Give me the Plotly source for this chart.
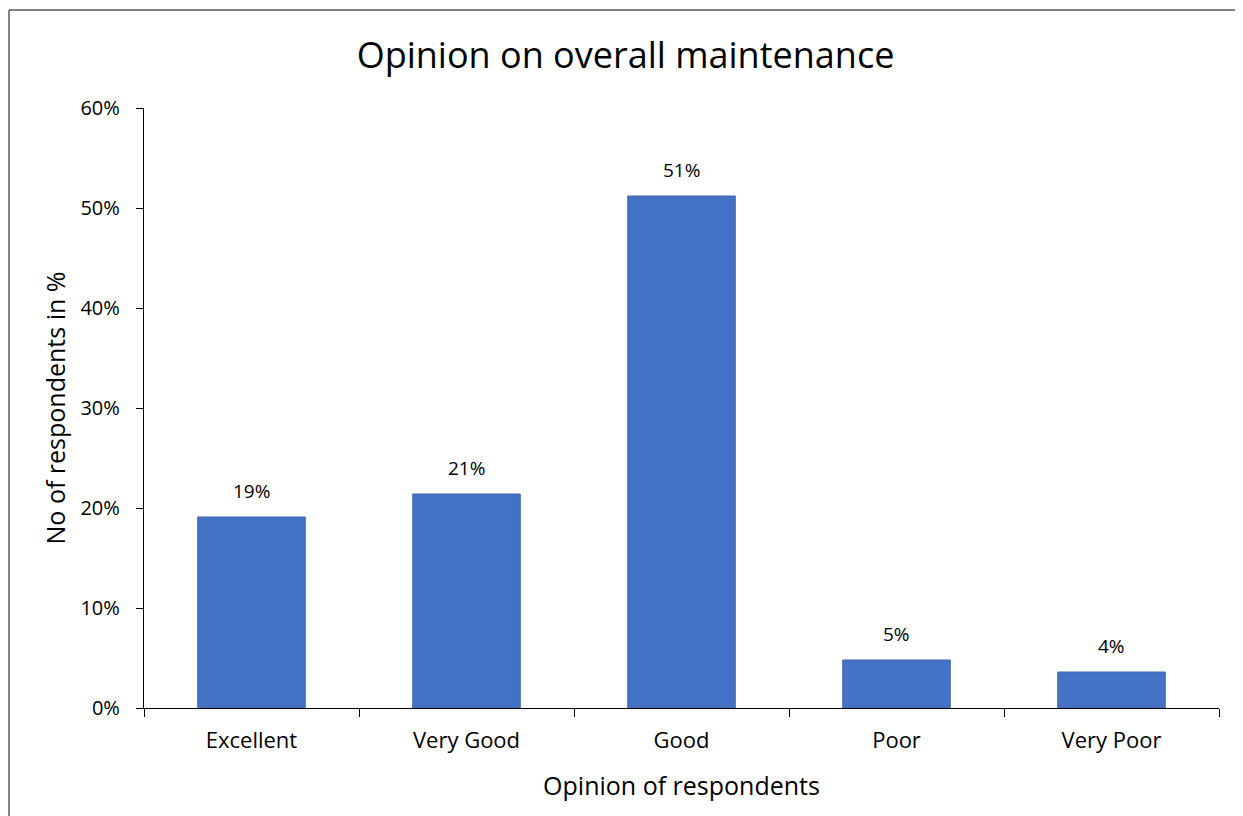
import plotly.graph_objects as go

categories = ["Excellent", "Very Good", "Good", "Poor", "Very Poor"]
values = [0.191, 0.214, 0.512, 0.048, 0.036]
ytick_vals = [0, 0.1, 0.2, 0.3, 0.4, 0.5, 0.6]
ytick_text = ["0%", "10%", "20%", "30%", "40%", "50%", "60%"]

FONT = "Open Sans"

fig = go.Figure(go.Bar(
    x=categories, y=values,
    marker=dict(color="#4472C4", line=dict(color="#3D67B0", width=1)),
    width=0.5,
    hoverinfo="x+y",
))

# data labels placed above each bar
annotations = [
    dict(x=c, y=v, xref="x", yref="y", text=f"{v:.0%}", showarrow=False,
         yanchor="bottom", yshift=11,
         font=dict(family=FONT, size=19, color="#000000"))
    for c, v in zip(categories, values)
]

# figure is drawn 8px in from the page edge (body margin)
W, H = 1235, 808
L, R, T, B = 136, 24, 100, 108
pw, ph = W - L - R, H - T - B

def px_x(p):
    return (p - L) / pw

def px_y(p):
    return (H - B - p) / ph

fig.update_layout(
    width=W, height=H,
    margin=dict(l=L, r=R, t=T, b=B),
    paper_bgcolor="white", plot_bgcolor="white",
    showlegend=False,
    annotations=annotations,
    title=dict(text="Opinion on overall maintenance", x=0.5, xanchor="center",
               y=1 - 47 / H, yanchor="middle",
               font=dict(family=FONT, size=36, color="#000000")),
    font=dict(family=FONT, color="#000000"),
    xaxis=dict(
        showline=True, linecolor="#000000", linewidth=1.3,
        ticks="outside", tickson="boundaries", ticklen=8, tickcolor="#000000",
        ticklabelstandoff=12,
        tickfont=dict(family=FONT, size=22, color="#000000"),
        title=dict(text="Opinion of respondents", standoff=24,
                   font=dict(family=FONT, size=25, color="#000000")),
        showgrid=False,
    ),
    yaxis=dict(
        range=[0, 0.6], tickvals=ytick_vals, ticktext=ytick_text,
        showline=True, linecolor="#000000", linewidth=1.3,
        ticks="outside", ticklen=7, tickcolor="#000000",
        ticklabelstandoff=12,
        tickfont=dict(family=FONT, size=20, color="#000000"),
        title=dict(text="No of respondents in %", standoff=7,
                   font=dict(family=FONT, size=25, color="#000000")),
        showgrid=False, zeroline=False,
    ),
    shapes=[
        dict(type="line", xref="paper", yref="paper",
             x0=px_x(1), x1=px_x(W + 5), y0=px_y(2), y1=px_y(2),
             line=dict(color="#595959", width=1.5)),
        dict(type="line", xref="paper", yref="paper",
             x0=px_x(1), x1=px_x(1), y0=px_y(2), y1=px_y(H + 5),
             line=dict(color="#595959", width=1.5)),
    ],
)

fig.write_html("out.html")
